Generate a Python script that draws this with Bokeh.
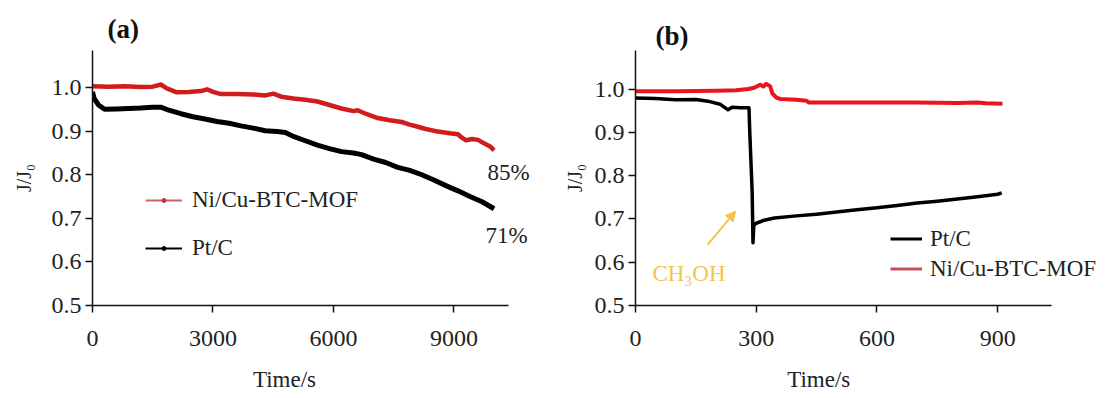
from bokeh.plotting import figure
from bokeh.layouts import row
from bokeh.models import (Range1d, Legend, LegendItem, Label, Arrow, NormalHead, Title,
                          FixedTicker, PrintfTickFormatter)
from bokeh.embed import file_html
from bokeh.resources import INLINE

FONT = "Liberation Serif"
RED_A = "#d01c1c"
RED_B = "#e8141e"
GOLD = "#f2c44a"
NAN = float("nan")
NBSP = "\u00a0"

# ---------------- data: panel (a) ----------------
a_red_t = [0, 400, 800, 1200, 1500, 1700, 1850, 2100, 2400, 2700, 2850, 3000, 3200, 3600,
           4000, 4300, 4500, 4700, 5000, 5300, 5600, 5900, 6200, 6500, 6600, 6800, 7100,
           7400, 7700, 7900, 8100, 8300, 8600, 8900, 9100, 9200, 9300, 9450, 9600, 9750,
           9900, 10000]
a_red_v = [1.003, 1.002, 1.003, 1.001, 1.002, 1.007, 0.998, 0.989, 0.990, 0.992, 0.996,
           0.990, 0.985, 0.985, 0.984, 0.982, 0.986, 0.979, 0.975, 0.972, 0.968, 0.960,
           0.952, 0.946, 0.948, 0.940, 0.930, 0.925, 0.921, 0.915, 0.910, 0.905, 0.899,
           0.895, 0.893, 0.885, 0.879, 0.882, 0.880, 0.872, 0.865, 0.856]
a_blk_t = [0, 40, 150, 300, 600, 900, 1200, 1500, 1700, 1900, 2200, 2500, 2800, 3100, 3400,
           3700, 4000, 4300, 4600, 4800, 5000, 5300, 5600, 5900, 6200, 6500, 6700, 7000,
           7300, 7600, 7900, 8200, 8500, 8800, 9100, 9400, 9700, 10000]
a_blk_v = [0.990, 0.975, 0.960, 0.950, 0.951, 0.952, 0.953, 0.955, 0.955, 0.948, 0.940,
           0.933, 0.928, 0.922, 0.918, 0.912, 0.907, 0.901, 0.899, 0.897, 0.888, 0.878,
           0.868, 0.860, 0.853, 0.850, 0.846, 0.836, 0.828, 0.817, 0.810, 0.800, 0.788,
           0.775, 0.763, 0.750, 0.738, 0.722]

# ---------------- data: panel (b) ----------------
b_red_t = [0, 100, 200, 250, 280, 295, 310, 318, 325, 335, 340, 350, 360, 400, 425, 430,
           500, 600, 700, 800, 850, 870, 912]
b_red_v = [0.995, 0.995, 0.996, 0.997, 1.000, 1.003, 1.010, 1.006, 1.012, 1.006, 0.990,
           0.980, 0.977, 0.975, 0.973, 0.969, 0.969, 0.969, 0.969, 0.968, 0.969, 0.967,
           0.966]
b_blk_t = [0, 50, 100, 150, 180, 210, 230, 240, 260, 282, 284, 287, 290, 292, 294, 300,
           320, 345, 400, 450, 500, 550, 600, 650, 700, 750, 800, 850, 900, 910]
b_blk_v = [0.979, 0.978, 0.975, 0.976, 0.972, 0.965, 0.952, 0.958, 0.957, 0.957, 0.900,
           0.830, 0.760, 0.645, 0.685, 0.690, 0.697, 0.702, 0.707, 0.711, 0.716, 0.721,
           0.726, 0.731, 0.737, 0.741, 0.746, 0.751, 0.757, 0.760]

y_ticks = [0.5, 0.6, 0.7, 0.8, 0.9, 1.0]
a_x_ticks = [0, 3000, 6000, 9000]
b_x_ticks = [0, 300, 600, 900]


def make_fig(width, left, right, xmax, ymax, xbounds, xticks, ylabel_standoff, xlabel_pad):
    p = figure(width=width, height=398, output_backend="svg", toolbar_location=None,
               x_range=Range1d(0, xmax), y_range=Range1d(0.5, ymax),
               min_border_left=left, min_border_right=right,
               min_border_top=50, min_border_bottom=93)
    p.outline_line_color = None
    p.grid.visible = False
    p.background_fill_color = "white"
    p.border_fill_color = "white"
    p.xaxis.ticker = FixedTicker(ticks=xticks)
    p.yaxis.ticker = FixedTicker(ticks=y_ticks)
    p.yaxis.formatter = PrintfTickFormatter(format="%.1f")
    p.xaxis.bounds = xbounds
    for ax in p.axis:
        ax.major_tick_in = 0
        ax.major_tick_out = 7
        ax.minor_tick_in = 0
        ax.minor_tick_out = 0
        ax.axis_line_width = 1.5
        ax.axis_line_color = "#111111"
        ax.major_tick_line_width = 1.5
        ax.major_tick_line_color = "#111111"
        ax.major_label_text_font = FONT
        ax.major_label_text_font_size = "24px"
        ax.major_label_text_color = "#222222"
        ax.axis_label_text_font = FONT
        ax.axis_label_text_font_style = "normal"
        ax.axis_label_text_color = "#222222"
    p.xaxis.major_label_standoff = 18
    p.yaxis.major_label_standoff = 4
    p.yaxis.axis_label = "J/J\u2080"
    p.yaxis.axis_label_text_font_size = "20px"
    p.yaxis.axis_label_standoff = ylabel_standoff
    # trailing no-break spaces shift the centred label left, as in the source figure
    p.xaxis.axis_label = "Time/s" + NBSP * xlabel_pad
    p.xaxis.axis_label_text_font_size = "23px"
    p.xaxis.axis_label_standoff = 18
    return p


def text(p, x, y, s, size="23px", color="#222222", align="left", baseline="middle",
         style="normal"):
    p.add_layout(Label(x=x, y=y, text=s, text_font=FONT, text_font_size=size,
                       text_color=color, text_align=align, text_baseline=baseline,
                       text_font_style=style))


def panel_title(p, s, offset, standoff):
    p.add_layout(Title(text=s, align="left", offset=offset, standoff=standoff,
                       text_font=FONT, text_font_size="27px", text_font_style="bold",
                       text_color="#111111"), "above")


# ---------------- panel (a) ----------------
pa = make_fig(560, 92, 15, 11280, 1.085, (0, 10357), a_x_ticks, 14, 12)
panel_title(pa, "(a)", 15, 14)
pa.line(a_red_t, a_red_v, line_color=RED_A, line_width=4.5, line_join="round")
pa.line(a_blk_t, a_blk_v, line_color="black", line_width=5, line_join="round")

la_r = pa.line(x=[NAN], y=[NAN], line_color="#d2606a", line_width=2)
sa_r = pa.scatter(x=[NAN], y=[NAN], size=4, color="#c0303a")
la_b = pa.line(x=[NAN], y=[NAN], line_color="black", line_width=2)
sa_b = pa.scatter(x=[NAN], y=[NAN], size=4, color="black")
leg_a = Legend(items=[LegendItem(label="Ni/Cu-BTC-MOF", renderers=[la_r, sa_r]),
                      LegendItem(label="Pt/C", renderers=[la_b, sa_b])],
               location=(53, 44), padding=0, margin=0, border_line_color=None,
               background_fill_alpha=0, glyph_width=37, glyph_height=10,
               label_height=27, spacing=21, label_standoff=10,
               label_text_font=FONT, label_text_font_size="23px",
               label_text_color="#222222")
pa.add_layout(leg_a)

text(pa, 9835, 0.805, "85%")
text(pa, 9786, 0.661, "71%")

# ---------------- panel (b) ----------------
pb = make_fig(545, 75, 0, 1168, 1.089, (0, 1034), b_x_ticks, 6, 18)
panel_title(pb, "(b)", 20, 0)
pb.line(b_red_t, b_red_v, line_color=RED_B, line_width=4, line_join="round")
pb.line(b_blk_t, b_blk_v, line_color="black", line_width=3.5, line_join="round")

lb_b = pb.line(x=[NAN], y=[NAN], line_color="black", line_width=3)
lb_r = pb.line(x=[NAN], y=[NAN], line_color="#c4505a", line_width=3)
leg_b = Legend(items=[LegendItem(label="Pt/C", renderers=[lb_b]),
                      LegendItem(label="Ni/Cu-BTC-MOF", renderers=[lb_r])],
               location=(255, 23), padding=0, margin=0, border_line_color=None,
               background_fill_alpha=0, glyph_width=32, glyph_height=27,
               label_height=27, spacing=3, label_standoff=8,
               label_text_font=FONT, label_text_font_size="23px",
               label_text_color="#222222")
pb.add_layout(leg_b)

pb.add_layout(Arrow(end=NormalHead(size=10, fill_color=GOLD, line_color=GOLD),
                    x_start=179, y_start=0.640, x_end=249, y_end=0.718,
                    line_color=GOLD, line_width=2))
text(pb, 42, 0.575, "CH\u2083OH", color=GOLD)

layout = row(pa, pb)
open("out.html", "w").write(file_html(layout, INLINE))
